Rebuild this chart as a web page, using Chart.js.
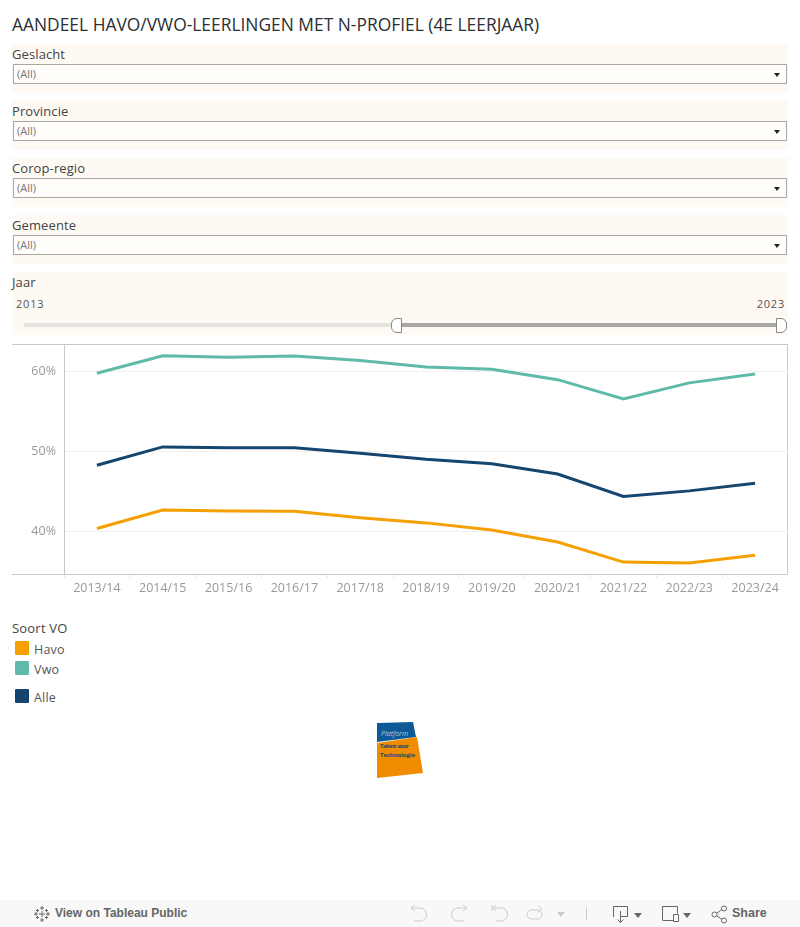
<!DOCTYPE html>
<html lang="nl">
<head>
<meta charset="utf-8">
<title>Aandeel havo/vwo-leerlingen met N-profiel</title>
<script src="https://cdn.jsdelivr.net/npm/chart.js@4"></script>
<style>
    html, body { margin: 0; padding: 0; background: #fff; }
    body { width: 800px; height: 927px; position: relative; overflow: hidden; font-family: "Open Sans", sans-serif; color: #333; }
    .abs { position: absolute; }
    #title { left: 12px; top: 12px; font-size: 17.4px; line-height: 24px; color: #2b2f33; white-space: nowrap; }
    .panel { position: absolute; left: 12px; width: 776px; background: #fef9f3; }
    .panel-label { position: absolute; left: 0; top: 2px; font-size: 13px; line-height: 17px; letter-spacing: .1px; color: #444; }
    .select { position: absolute; left: 1px; top: 20px; width: 772px; height: 18px; border: 1px solid #aaa8a0; background: #fffdf9; font-size: 11px; line-height: 18px; color: #777; text-indent: 3px; }
    .select::after { content: ""; position: absolute; right: 6px; top: 8px; border: 3.5px solid transparent; border-top: 4px solid #222; border-bottom: 0; }
    .year { position: absolute; top: 25px; font-size: 11px; line-height: 14px; letter-spacing: .8px; color: #555; }
    .track { position: absolute; top: 51px; height: 4px; }
    .handle { position: absolute; top: 46px; width: 9px; height: 13px; border: 1px solid #888; background: #fff; }
    #frame { left: 12px; top: 344px; width: 775px; height: 229px; border-top: 1px solid #c8c8c8; border-right: 1px solid #c8c8c8; border-bottom: 1px solid #c8c8c8; }
    #chart-wrap { left: 12px; top: 344px; width: 776px; height: 262px; }
    #legend-title { left: 12px; top: 620px; font-size: 13px; line-height: 17px; letter-spacing: .2px; color: #444; }
    .legend-swatch { position: absolute; left: 15px; width: 14px; height: 14px; border-radius: 1px; }
    .legend-label { position: absolute; left: 34px; font-size: 12.5px; line-height: 17px; letter-spacing: .2px; color: #555; }
    #toolbar { left: 0; top: 900px; width: 800px; height: 27px; background: #f8f8f8; font-family: "Liberation Sans", sans-serif; font-size: 12px; font-weight: bold; color: #666; }
    #toolbar svg { position: absolute; left: 0; top: 0; }
    #toolbar span { position: absolute; top: 6px; line-height: 15px; }
</style>
</head>
<body>
<div id="title" class="abs">AANDEEL HAVO/VWO-LEERLINGEN MET N-PROFIEL (4E LEERJAAR)</div>
<div id="filters"></div>

<div class="panel" style="top:272px;height:63px">
    <div class="panel-label">Jaar</div>
    <div class="year" style="left:4px">2013</div>
    <div class="year" style="right:3px">2023</div>
    <div class="track" style="left:12px;width:372px;background:#e6e4e1"></div>
    <div class="track" style="left:389px;width:376px;background:#a9a7a5"></div>
    <div class="handle" style="left:379px;border-radius:6px 0 0 6px"></div>
    <div class="handle" style="left:764px;border-radius:0 6px 6px 0"></div>
</div>

<div id="frame" class="abs"></div>
<div id="chart-wrap" class="abs"><canvas id="chart" width="776" height="262"></canvas></div>

<div id="legend-title" class="abs">Soort VO</div>
<div id="legend"></div>

<svg class="abs" style="left:375px;top:720px" width="50" height="60" viewBox="0 0 50 60">
    <polygon points="2,3 38,2 41,17 2,22" fill="#0f5a96"/>
    <polygon points="2,23 42,17 48,53 2,58" fill="#f08c00"/>
    <text x="6" y="16" font-family="Open Sans" font-size="7" font-style="italic" fill="#a8cce8">Platform</text>
    <text x="5" y="28" font-family="Open Sans" font-size="6" font-weight="bold" fill="#174a73" textLength="29">Talent voor</text>
    <text x="5" y="37" font-family="Open Sans" font-size="6" font-weight="bold" fill="#174a73" textLength="35">Technologie</text>
</svg>

<div id="toolbar" class="abs">
    <svg width="800" height="27" fill="none" stroke="#666" stroke-width="1">
        <g transform="translate(34,6)">
            <path d="M8 5v6M5 8h6M8 0v4M6 2h4M8 12v4M6 14h4M0 8h4M2 6v4M12 8h4M14 6v4M3.500 3v3M2 4.500h3M12.500 3v3M11 4.500h3M3.500 10v3M2 11.500h3M12.500 10v3M11 11.500h3"/>
        </g>
        <g stroke="#ccc">
            <path d="M411 8h9a6.500 6.500 0 0 1 0 13h-6M415 5l-4 3 4 3"/>
            <path d="M467 8h-9a6.500 6.500 0 0 0 0 13h6M463 5l4 3-4 3"/>
            <path d="M492 5v6M493 8h8a6.500 6.500 0 0 1 0 13h-5M496 5l-3 3 3 3"/>
            <rect x="527" y="10" width="15" height="9" rx="4.500"/>
            <path d="M538 6l4 3-4 3"/>
            <path d="M586.500 7v13"/>
        </g>
        <path d="M557 12h8l-4 5z" fill="#ccc" stroke="none"/>
        <path d="M613.500 17V6.500h14v10h-7M620.500 11v11M617.500 19.500l3 3 3-3"/>
        <path d="M634 13h8l-4 5z" fill="#666" stroke="none"/>
        <path d="M662.500 20V6.500h15v7M662.500 20.500h11M673.500 14.500h5v7h-5z"/>
        <path d="M683 13h8l-4 5z" fill="#666" stroke="none"/>
        <circle cx="714.500" cy="14.500" r="2.500"/><circle cx="724" cy="8.500" r="2.500"/><circle cx="724" cy="20.500" r="2.500"/>
        <path d="M717 13l5-3.500M717 16l5 3.500"/>
    </svg>
    <span style="left:55px;top:6px">View on Tableau Public</span>
    <span style="left:732px;top:6px;font-size:12.500px">Share</span>
</div>

<script>
const years = ["2013/14", "2014/15", "2015/16", "2016/17", "2017/18", "2018/19", "2019/20", "2020/21", "2021/22", "2022/23", "2023/24"];
const havo = [40.4, 42.7, 42.6, 42.55, 41.75, 41.1, 40.2, 38.7, 36.2, 36.1, 37.05];
const vwo = [59.8, 62.0, 61.8, 61.95, 61.4, 60.6, 60.3, 59.0, 56.6, 58.6, 59.7];
const alle = [48.3, 50.6, 50.5, 50.5, 49.8, 49.05, 48.5, 47.2, 44.4, 45.1, 46.05];
const yTicks = [40, 50, 60];

const filterNames = ["Geslacht", "Provincie", "Corop-regio", "Gemeente"];
const colors = { Havo: "#f5a000", Vwo: "#5fbaa9", Alle: "#14466f" };

document.addEventListener("DOMContentLoaded", () => {
    renderFilters();
    renderLegend();
    renderChart();
});

function renderFilters() {
    document.getElementById("filters").innerHTML = filterNames.map((name, i) => `
        <div class="panel" style="top:${44 + i * 57}px;height:49px">
            <div class="panel-label">${name}</div>
            <div class="select">(All)</div>
        </div>
    `).join("");
}

function renderLegend() {
    const tops = { Havo: 641, Vwo: 661, Alle: 689 };
    document.getElementById("legend").innerHTML = Object.keys(tops).map(name => `
        <div class="legend-swatch" style="top:${tops[name]}px;background:${colors[name]}"></div>
        <div class="legend-label" style="top:${tops[name]}px">${name}</div>
    `).join("");
}

function renderChart() {
    const line = (label, data) => ({ label, data, borderColor: colors[label], borderWidth: 3, pointRadius: 0, tension: 0, fill: false });
    const tickFont = { family: "'Open Sans'", size: 12.5 };
    new Chart(document.getElementById("chart"), {
        type: "line",
        data: { labels: years, datasets: [line("Havo", havo), line("Vwo", vwo), line("Alle", alle)] },
        options: {
            responsive: false,
            animation: false,
            plugins: { legend: { display: false }, tooltip: { enabled: false } },
            scales: {
                x: {
                    offset: true,
                    afterFit: scale => {
                        scale.height = 32;
                        scale.paddingLeft = 0;
                        scale.paddingRight = 0;
                    },
                    border: { color: "#c8c8c8" },
                    grid: { offset: true, drawOnChartArea: false, tickLength: 4, tickColor: "#e8e8e8" },
                    ticks: { color: "#999", font: tickFont, maxRotation: 0, autoSkip: false, padding: 3 }
                },
                y: {
                    min: 34.71,
                    max: 63.46,
                    afterFit: scale => {
                        scale.width = 52;
                        scale.paddingTop = 0;
                        scale.paddingBottom = 0;
                    },
                    afterBuildTicks: scale => { scale.ticks = yTicks.map(value => ({ value })); },
                    border: { color: "#c8c8c8" },
                    grid: { color: "#f0f0f0", drawTicks: false },
                    ticks: { color: "#999", font: tickFont, padding: 8, callback: value => `${value}%` }
                }
            }
        }
    });
}
</script>
</body>
</html>
